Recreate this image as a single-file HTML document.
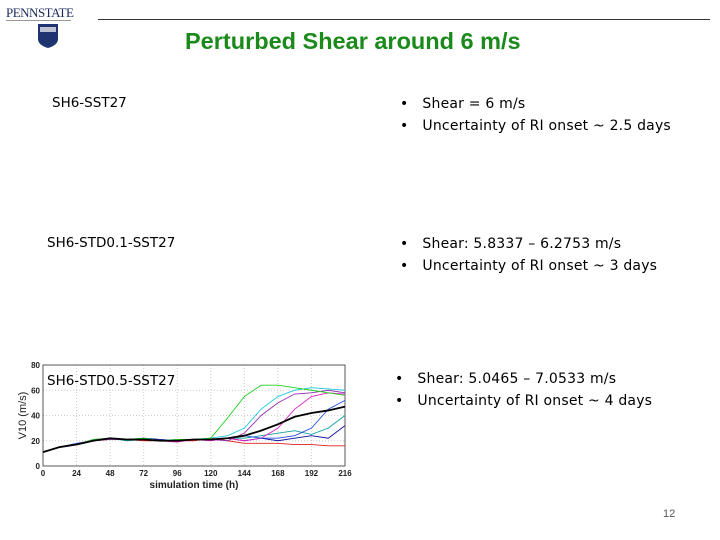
<!DOCTYPE html>
<html><head><meta charset="utf-8">
<style>
body{margin:0;width:720px;height:540px;background:#fff;position:relative;overflow:hidden;font-family:"Liberation Sans",sans-serif}
.t{position:absolute;white-space:nowrap}
.b{font-family:"DejaVu Sans","Liberation Sans",sans-serif;font-size:13px;color:#000}
.bl{font-size:14px;letter-spacing:0.2px}
</style></head><body>
<div class="t" style="left:6px;top:5px;font-family:'Liberation Serif',serif;font-size:13px;color:#1a2a5a;letter-spacing:-0.5px">PENNSTATE</div>
<div style="position:absolute;left:6px;top:20px;width:65px;height:1px;background:#999"></div>
<div style="position:absolute;left:98px;top:19px;width:612px;height:1px;background:#333"></div>
<svg style="position:absolute;left:37px;top:23px" width="22" height="26"><path d="M1 1H21V16Q21 22 11 25Q1 22 1 16Z" fill="#1e3370"/><rect x="3" y="4" width="16" height="5" fill="#fff" opacity="0.7"/></svg>
<div class="t" style="left:185px;top:28px;font-size:23.5px;font-weight:bold;color:#1a8a1a">Perturbed Shear around 6 m/s</div>

<div class="t b" style="left:52px;top:95px;font-size:13.5px">SH6-SST27</div>
<div class="t b bl" style="left:400px;top:93px;line-height:22px">•&nbsp;&nbsp;&nbsp;Shear = 6 m/s<br>•&nbsp;&nbsp;&nbsp;Uncertainty of RI onset ~ 2.5 days</div>
<div class="t b" style="left:47px;top:235px;font-size:13.5px">SH6-STD0.1-SST27</div>
<div class="t b bl" style="left:400px;top:233px;line-height:22px">•&nbsp;&nbsp;&nbsp;Shear: 5.8337 – 6.2753 m/s<br>•&nbsp;&nbsp;&nbsp;Uncertainty of RI onset ~ 3 days</div>
<div class="t b bl" style="left:395px;top:368px;line-height:22px">•&nbsp;&nbsp;&nbsp;Shear: 5.0465 – 7.0533 m/s<br>•&nbsp;&nbsp;&nbsp;Uncertainty of RI onset ~ 4 days</div>
<div class="t" style="left:663px;top:508px;font-size:11px;color:#555">12</div>

<svg id="chart" style="position:absolute;left:0;top:330px" width="360" height="170"></svg>
<script>
const times=[0,12,24,36,48,60,72,84,96,108,120,132,144,156,168,180,192,204,216];
const meanV=[11,15,17,20,22,21,21,20,20,21,21,22,24,28,33,39,42,44,47];
const memGreen=[11,15,17,21,22,21,22,20,21,21,22,38,55,64,64,62,60,58,56];
const memCyan=[11,15,17,20,22,21,21,20,20,21,22,24,30,45,55,60,62,61,60];
const memBlue=[11,15,18,20,22,21,21,20,21,21,21,22,24,22,22,24,30,45,52];
const memMagenta=[11,15,17,21,22,21,21,20,19,21,20,22,20,22,30,45,55,58,57];
const memRed=[11,15,17,20,21,21,20,20,20,20,22,20,18,18,18,17,17,16,16];
const memNavy=[11,15,17,20,22,21,22,21,20,21,21,22,20,22,20,22,24,22,32];
const memTeal=[11,15,17,20,22,20,21,20,20,21,21,22,22,24,26,28,25,30,40];
const memPurple=[11,15,17,20,21,21,21,20,20,21,21,20,26,40,50,57,58,60,58];
const xTicks=[0,24,48,72,96,120,144,168,192,216];
const yTicks=[0,20,40,60,80];
const NS="http://www.w3.org/2000/svg";
const svg=document.getElementById('chart');
const L=43,R=345,T=35,B=136;
const xs=v=>L+(v/216)*(R-L), ys=v=>B-(v/80)*(B-T);
function mk(tag,a){const e=document.createElementNS(NS,tag);for(const k in a)e.setAttribute(k,a[k]);svg.appendChild(e);return e;}
xTicks.forEach(t=>{const g=mk('line',{x1:xs(t),x2:xs(t),y1:T,y2:B,stroke:'#ccc','stroke-dasharray':'1,2'});


const l=mk('text',{x:xs(t),y:B+10,'font-size':8,'font-weight':'bold','text-anchor':'middle',fill:'#222','font-family':'Liberation Sans'});l.textContent=t;

});
yTicks.forEach(t=>{const g=mk('line',{x1:L,x2:R,y1:ys(t),y2:ys(t),stroke:'#ccc','stroke-dasharray':'1,2'});


const l=mk('text',{x:L-3,y:ys(t)+3,'font-size':8,'font-weight':'bold','text-anchor':'end',fill:'#222','font-family':'Liberation Sans'});l.textContent=t;

});
const frame=mk('rect',{x:L,y:T,width:R-L,height:B-T,fill:'none',stroke:'#333','stroke-width':0.8});


const mems=[[memRed,'#e02020'],[memNavy,'#1010a0'],[memTeal,'#10a0a0'],[memPurple,'#9030b0'],[memMagenta,'#e020c0'],[memBlue,'#2050e0'],[memCyan,'#20c8e0'],[memGreen,'#20d020']];
function pts(arr){return arr.map((v,i)=>xs(times[i])+','+ys(v)).join(' ');}
mems.forEach(m=>{const p=mk('polyline',{points:pts(m[0]),fill:'none',stroke:m[1],'stroke-width':0.9});

});
const mean=mk('polyline',{points:pts(meanV),fill:'none',stroke:'#000','stroke-width':1.8});


const xl=mk('text',{x:(L+R)/2,y:B+22,'font-size':10,'font-weight':'bold','text-anchor':'middle',fill:'#222','font-family':'Liberation Sans'});xl.textContent='simulation time (h)';


const yl=mk('text',{x:0,y:0,'font-size':11,'text-anchor':'middle',fill:'#222','font-family':'Liberation Sans',transform:'translate(26,'+((T+B)/2)+') rotate(-90)'});yl.textContent='V10 (m/s)';


const cl=mk('text',{x:47,y:55,'font-size':13.5,'fill':'#000','font-family':'DejaVu Sans'});cl.textContent='SH6-STD0.5-SST27';


</script>
</body></html>
